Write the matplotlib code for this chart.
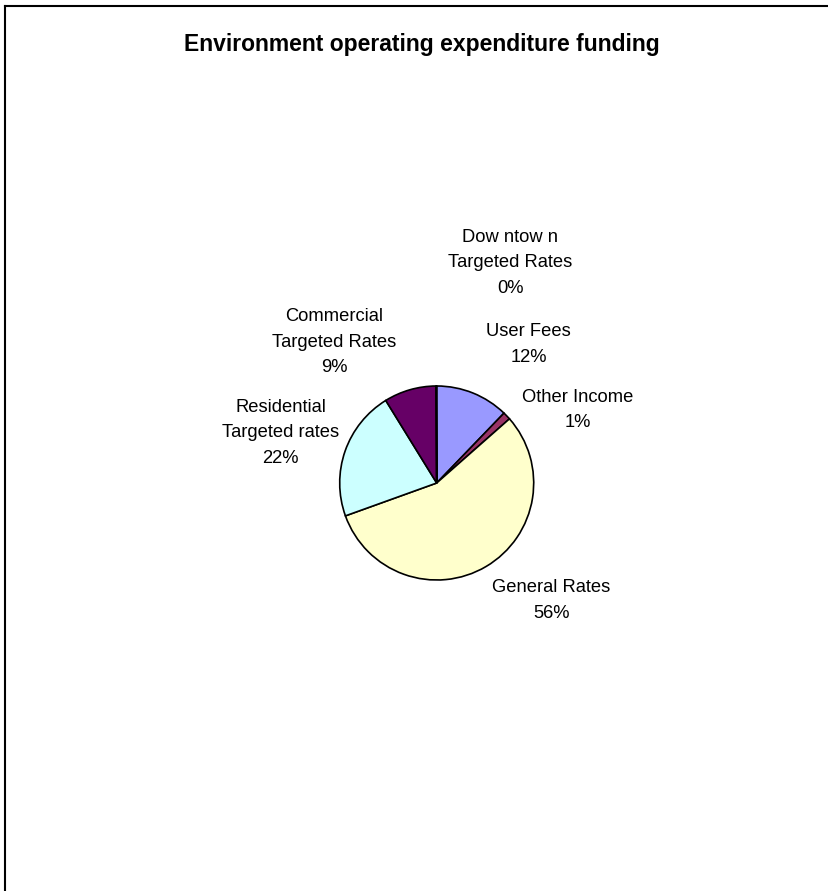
import matplotlib
matplotlib.use("Agg")
import matplotlib.pyplot as plt
from matplotlib.lines import Line2D

plt.rcParams['font.family'] = ['Liberation Sans', 'DejaVu Sans']

# data (share of funding, %)
names = ["User Fees", "Other Income", "General Rates",
         "Residential\nTargeted rates", "Commercial\nTargeted Rates",
         "Dow ntow n\nTargeted Rates"]
shares = [12.2, 1.3, 56.0, 21.7, 8.7, 0.1]
colors = ["#9999FF", "#993366", "#FFFFCC", "#CCFFFF", "#660066", "#FFFFFF"]

# label placement (in pie radii, relative to centre), Excel style
label_pos = [(0.95, 1.43), (1.45, 0.75), (1.18, -1.21),
             (-1.61, 0.52), (-1.06, 1.45), (0.76, 2.27)]

W, H = 829, 891
fig = plt.figure(figsize=(W / 100, H / 100), dpi=100)
ax = fig.add_axes([0, 0, 1, 1])

cx, cy, r = 436.7, 483.0, 97.0   # pixel centre / radius of the pie

ax.pie(shares, colors=colors, startangle=90, counterclock=False,
       wedgeprops=dict(edgecolor="black", linewidth=1.2))

for name, s, (dx, dy) in zip(names, shares, label_pos):
    ax.text(dx, dy, "%s\n%d%%" % (name, round(s)), ha="center", va="center",
            fontsize=13.2, linespacing=1.65, color="black")

# map axes so that 1 data unit = r pixels, centre at (cx, cy)
ax.set_aspect("auto")
ax.set_xlim(-cx / r, (W - cx) / r)
ax.set_ylim((cy - H) / r, cy / r)
ax.axis("off")

fig.text(422 / W, 1 - 44 / H, "Environment operating expenditure funding",
         ha="center", va="center", fontsize=16.5, fontweight="bold")

# chart border (only top and left visible, rest clipped)
fig.add_artist(Line2D([5 / W, 1.01], [1 - 6 / H, 1 - 6 / H],
                      transform=fig.transFigure, color="black", lw=1.5))
fig.add_artist(Line2D([5 / W, 5 / W], [1 - 6 / H, -0.01],
                      transform=fig.transFigure, color="black", lw=1.5))

fig.savefig("out.png", dpi=100)
